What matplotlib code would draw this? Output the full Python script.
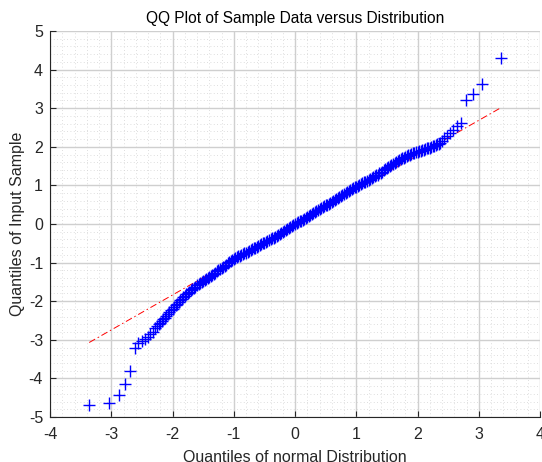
import matplotlib
matplotlib.use("Agg")
import matplotlib.pyplot as plt
from matplotlib.ticker import MultipleLocator

plt.rcParams['font.family'] = ['Liberation Sans', 'DejaVu Sans']
plt.rcParams['axes.unicode_minus'] = False

# ---- data ----
# dense central band of sample quantiles (theoretical quantile, sample quantile)
band_x = [-2.25, -2.20, -2.15, -2.10, -2.05, -2.00, -1.95, -1.90, -1.85, -1.80,
          -1.75, -1.70, -1.65, -1.60, -1.55, -1.50, -1.45, -1.40, -1.35, -1.30,
          -1.25, -1.20, -1.15, -1.10, -1.05, -1.00, -0.95, -0.90, -0.85, -0.80,
          -0.75, -0.70, -0.65, -0.60, -0.55, -0.50, -0.45, -0.40, -0.35, -0.30,
          -0.25, -0.20, -0.15, -0.10, -0.05, 0.00, 0.05, 0.10, 0.15, 0.20,
          0.25, 0.30, 0.35, 0.40, 0.45, 0.50, 0.55, 0.60, 0.65, 0.70,
          0.75, 0.80, 0.85, 0.90, 0.95, 1.00, 1.05, 1.10, 1.15, 1.20,
          1.25, 1.30, 1.35, 1.40, 1.45, 1.50, 1.55, 1.60, 1.65, 1.70,
          1.75, 1.80, 1.85, 1.90, 1.95, 2.00, 2.05, 2.10, 2.15, 2.20,
          2.25, 2.30, 2.35]
band_y = [-2.64, -2.56, -2.47, -2.38, -2.28, -2.19, -2.10, -2.02, -1.94, -1.86,
          -1.79, -1.72, -1.65, -1.59, -1.53, -1.48, -1.43, -1.38, -1.32, -1.26,
          -1.20, -1.14, -1.08, -1.02, -0.96, -0.90, -0.86, -0.82, -0.78, -0.74,
          -0.70, -0.66, -0.61, -0.57, -0.52, -0.48, -0.43, -0.39, -0.35, -0.31,
          -0.26, -0.22, -0.16, -0.11, -0.05, 0.00, 0.04, 0.09, 0.13, 0.18,
          0.23, 0.28, 0.33, 0.39, 0.43, 0.48, 0.52, 0.57, 0.62, 0.67,
          0.72, 0.77, 0.82, 0.87, 0.92, 0.97, 1.01, 1.06, 1.10, 1.14,
          1.19, 1.24, 1.28, 1.33, 1.39, 1.44, 1.50, 1.55, 1.61, 1.66,
          1.70, 1.74, 1.78, 1.81, 1.84, 1.87, 1.90, 1.93, 1.96, 1.98,
          2.01, 2.04, 2.07]
# extra sample quantiles filling the band between the listed ones
band2_x = [-2.225, -2.175, -2.125, -2.075, -2.025, -1.975, -1.925, -1.875, -1.825, -1.775,
           -1.725, -1.675, -1.625, -1.575, -1.525, -1.475, -1.425, -1.375, -1.325, -1.275,
           -1.225, -1.175, -1.125, -1.075, -1.025, -0.975, -0.925, -0.875, -0.825, -0.775,
           -0.725, -0.675, -0.625, -0.575, -0.525, -0.475, -0.425, -0.375, -0.325, -0.275,
           -0.225, -0.175, -0.125, -0.075, -0.025, 0.025, 0.075, 0.125, 0.175, 0.225,
           0.275, 0.325, 0.375, 0.425, 0.475, 0.525, 0.575, 0.625, 0.675, 0.725,
           0.775, 0.825, 0.875, 0.925, 0.975, 1.025, 1.075, 1.125, 1.175, 1.225,
           1.275, 1.325, 1.375, 1.425, 1.475, 1.525, 1.575, 1.625, 1.675, 1.725,
           1.775, 1.825, 1.875, 1.925, 1.975, 2.025, 2.075, 2.125, 2.175, 2.225,
           2.275, 2.325]
band2_y = [-2.60, -2.52, -2.43, -2.33, -2.23, -2.14, -2.06, -1.98, -1.90, -1.82,
           -1.75, -1.68, -1.62, -1.56, -1.50, -1.45, -1.41, -1.35, -1.29, -1.23,
           -1.17, -1.11, -1.05, -0.99, -0.93, -0.88, -0.84, -0.80, -0.76, -0.72,
           -0.68, -0.63, -0.59, -0.55, -0.50, -0.46, -0.41, -0.37, -0.33, -0.29,
           -0.24, -0.19, -0.14, -0.08, -0.03, 0.02, 0.07, 0.11, 0.16, 0.21,
           0.26, 0.31, 0.36, 0.41, 0.46, 0.50, 0.55, 0.60, 0.65, 0.70,
           0.75, 0.80, 0.85, 0.90, 0.95, 0.99, 1.04, 1.08, 1.12, 1.17,
           1.22, 1.26, 1.31, 1.36, 1.42, 1.47, 1.53, 1.58, 1.64, 1.68,
           1.72, 1.76, 1.80, 1.83, 1.86, 1.89, 1.92, 1.95, 1.97, 2.00,
           2.03, 2.06]

# individually visible tail points
low_x = [-3.36, -3.04, -2.88, -2.77, -2.69, -2.62, -2.56, -2.50, -2.45, -2.40, -2.36, -2.32, -2.28]
low_y = [-4.69, -4.65, -4.44, -4.14, -3.80, -3.22, -3.08, -3.04, -2.99, -2.93, -2.86, -2.80, -2.70]
high_x = [2.37, 2.40, 2.44, 2.48, 2.53, 2.58, 2.64, 2.71, 2.79, 2.90, 3.05, 3.37]
high_y = [2.11, 2.16, 2.22, 2.28, 2.36, 2.44, 2.53, 2.61, 3.21, 3.38, 3.63, 4.29]

# reference line through the quartiles, drawn over the data range
ref_x = [-3.36, 3.37]
ref_y = [-3.07, 3.02]

title = "QQ Plot of Sample Data versus Distribution"
xlabel = "Quantiles of normal Distribution"
ylabel = "Quantiles of Input Sample"

# ---- figure ----
fig = plt.figure(figsize=(5.42, 4.62), dpi=100)
ax = fig.add_axes([50/542, 1 - 417/462, 490/542, 386/462])

ax.set_xlim(-4, 4)
ax.set_ylim(-5, 5)
ax.xaxis.set_major_locator(MultipleLocator(1))
ax.yaxis.set_major_locator(MultipleLocator(1))
ax.xaxis.set_minor_locator(MultipleLocator(0.2))
ax.yaxis.set_minor_locator(MultipleLocator(0.2))

ax.grid(True, which='major', color='#cfcfcf', lw=1.0)
ax.grid(True, which='minor', color='#d4d4d4', lw=0.6, ls=(0, (1, 3)))
ax.set_axisbelow(True)

xs = low_x + band_x + band2_x + high_x
ys = low_y + band_y + band2_y + high_y
ax.plot(xs, ys, ls='none', marker='+', ms=8.2, mew=1.0, color='#0000ff', zorder=3)
ax.plot(ref_x, ref_y, color='#ff0000', lw=0.7, ls=(0, (7, 3, 1.5, 3)), zorder=2)

for s in ['top', 'right']:
    ax.spines[s].set_visible(False)
for s in ['left', 'bottom']:
    ax.spines[s].set_color('#262626')
    ax.spines[s].set_linewidth(0.8)

ax.tick_params(which='major', direction='in', length=4, width=0.8, color='#262626',
               labelsize=11.5, labelcolor='#262626')
ax.tick_params(axis='x', which='major', pad=7)
ax.tick_params(axis='y', which='major', pad=5)
ax.tick_params(which='minor', length=0)

ax.set_title(title, fontsize=11.2, color='#000000', pad=6)
ax.set_xlabel(xlabel, fontsize=11.5, color='#262626', labelpad=6)
ax.set_ylabel(ylabel, fontsize=11.5, color='#262626', labelpad=3)

fig.savefig("out.png", dpi=100)
